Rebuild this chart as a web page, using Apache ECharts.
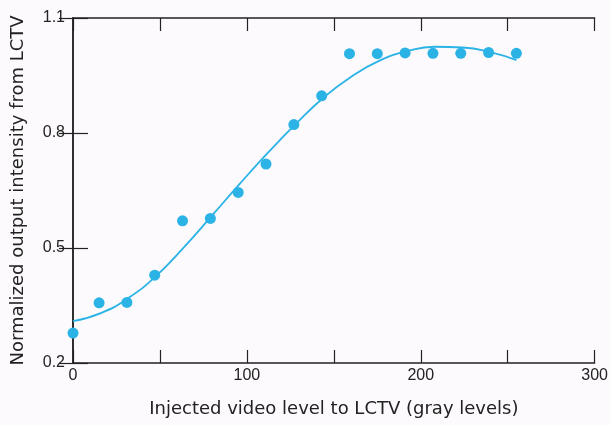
<!DOCTYPE html>
<html>
<head>
<meta charset="utf-8">
<script src="https://cdn.jsdelivr.net/npm/echarts@6/dist/echarts.min.js"></script>
<style>
  html, body { margin: 0; padding: 0; background: #fcfafc; }
  #chart { width: 611px; height: 425px; }
</style>
</head>
<body>
<div id="chart"></div>
<script>
// measured points
const grayLevels = [0, 15, 31, 47, 63, 79, 95, 111, 127, 143, 159, 175, 191, 207, 223, 239, 255];
const intensity = [0.278, 0.357, 0.358, 0.429, 0.571, 0.577, 0.645, 0.719, 0.822, 0.897, 1.007, 1.007, 1.009, 1.008, 1.008, 1.010, 1.008];

// fitted curve
const fitX = [0, 16, 32, 48, 64, 80, 96, 112, 128, 144, 160, 176, 192, 208, 224, 240, 255];
const fitY = [0.309, 0.330, 0.370, 0.428, 0.503, 0.585, 0.668, 0.748, 0.823, 0.892, 0.947, 0.988, 1.013, 1.025, 1.023, 1.011, 0.990];

const xTicks = [0, 100, 200, 300];
const yTicks = [0.2, 0.5, 0.8, 1.1];

const ink = '#222';
const blue = '#2bb3e6';
const font = 'Liberation Sans';

const chart = echarts.init(document.getElementById('chart'));

const frame = { show: true, lineStyle: { color: ink, width: 1.5 } };
const tickStyle = { color: ink, width: 1.2 };

chart.setOption({
  backgroundColor: '#fcfafc',
  animation: false,
  grid: { left: 73, right: 13, top: 18, bottom: 62 },
  xAxis: [
    {
      type: 'value', min: xTicks[0], max: xTicks[xTicks.length - 1], interval: 100,
      name: 'Injected video level to LCTV (gray levels)',
      nameLocation: 'middle', nameGap: 37,
      nameTextStyle: { fontFamily: 'DejaVu Sans', fontSize: 18, color: ink },
      axisLine: frame,
      axisTick: { inside: true, length: 13, lineStyle: tickStyle },
      minorTick: { show: true, splitNumber: 2, length: 13, lineStyle: tickStyle },
      axisLabel: { fontFamily: font, fontSize: 16, color: ink, margin: 5 },
      splitLine: { show: false }
    },
    {
      type: 'value', position: 'top', min: xTicks[0], max: xTicks[xTicks.length - 1], interval: 100,
      axisLine: frame,
      axisTick: { inside: true, length: 13, lineStyle: tickStyle },
      minorTick: { show: true, splitNumber: 2, length: 13, lineStyle: tickStyle },
      axisLabel: { show: false },
      splitLine: { show: false }
    }
  ],
  yAxis: [
    {
      type: 'value', min: yTicks[0], max: yTicks[yTicks.length - 1], interval: 0.3,
      name: 'Normalized output intensity from LCTV',
      nameLocation: 'middle', nameGap: 46,
      nameTextStyle: { fontFamily: 'DejaVu Sans', fontSize: 18, color: ink },
      axisLine: frame,
      axisTick: { inside: true, length: 15, lineStyle: tickStyle },
      axisLabel: { fontFamily: font, fontSize: 16, color: ink, margin: 8, formatter: v => v.toFixed(1) },
      splitLine: { show: false }
    },
    {
      type: 'value', position: 'right', min: yTicks[0], max: yTicks[yTicks.length - 1], interval: 0.3,
      axisLine: frame,
      axisTick: { inside: true, length: 14, lineStyle: tickStyle },
      axisLabel: { show: false },
      splitLine: { show: false }
    }
  ],
  series: [
    {
      type: 'line',
      data: fitX.map((x, i) => [x, fitY[i]]),
      smooth: 0.5,
      showSymbol: false,
      lineStyle: { color: blue, width: 1.8 },
      z: 2
    },
    {
      type: 'scatter',
      data: grayLevels.map((x, i) => [x, intensity[i]]),
      symbolSize: 11,
      itemStyle: { color: blue, opacity: 1 },
      z: 3
    }
  ]
});
</script>
</body>
</html>
